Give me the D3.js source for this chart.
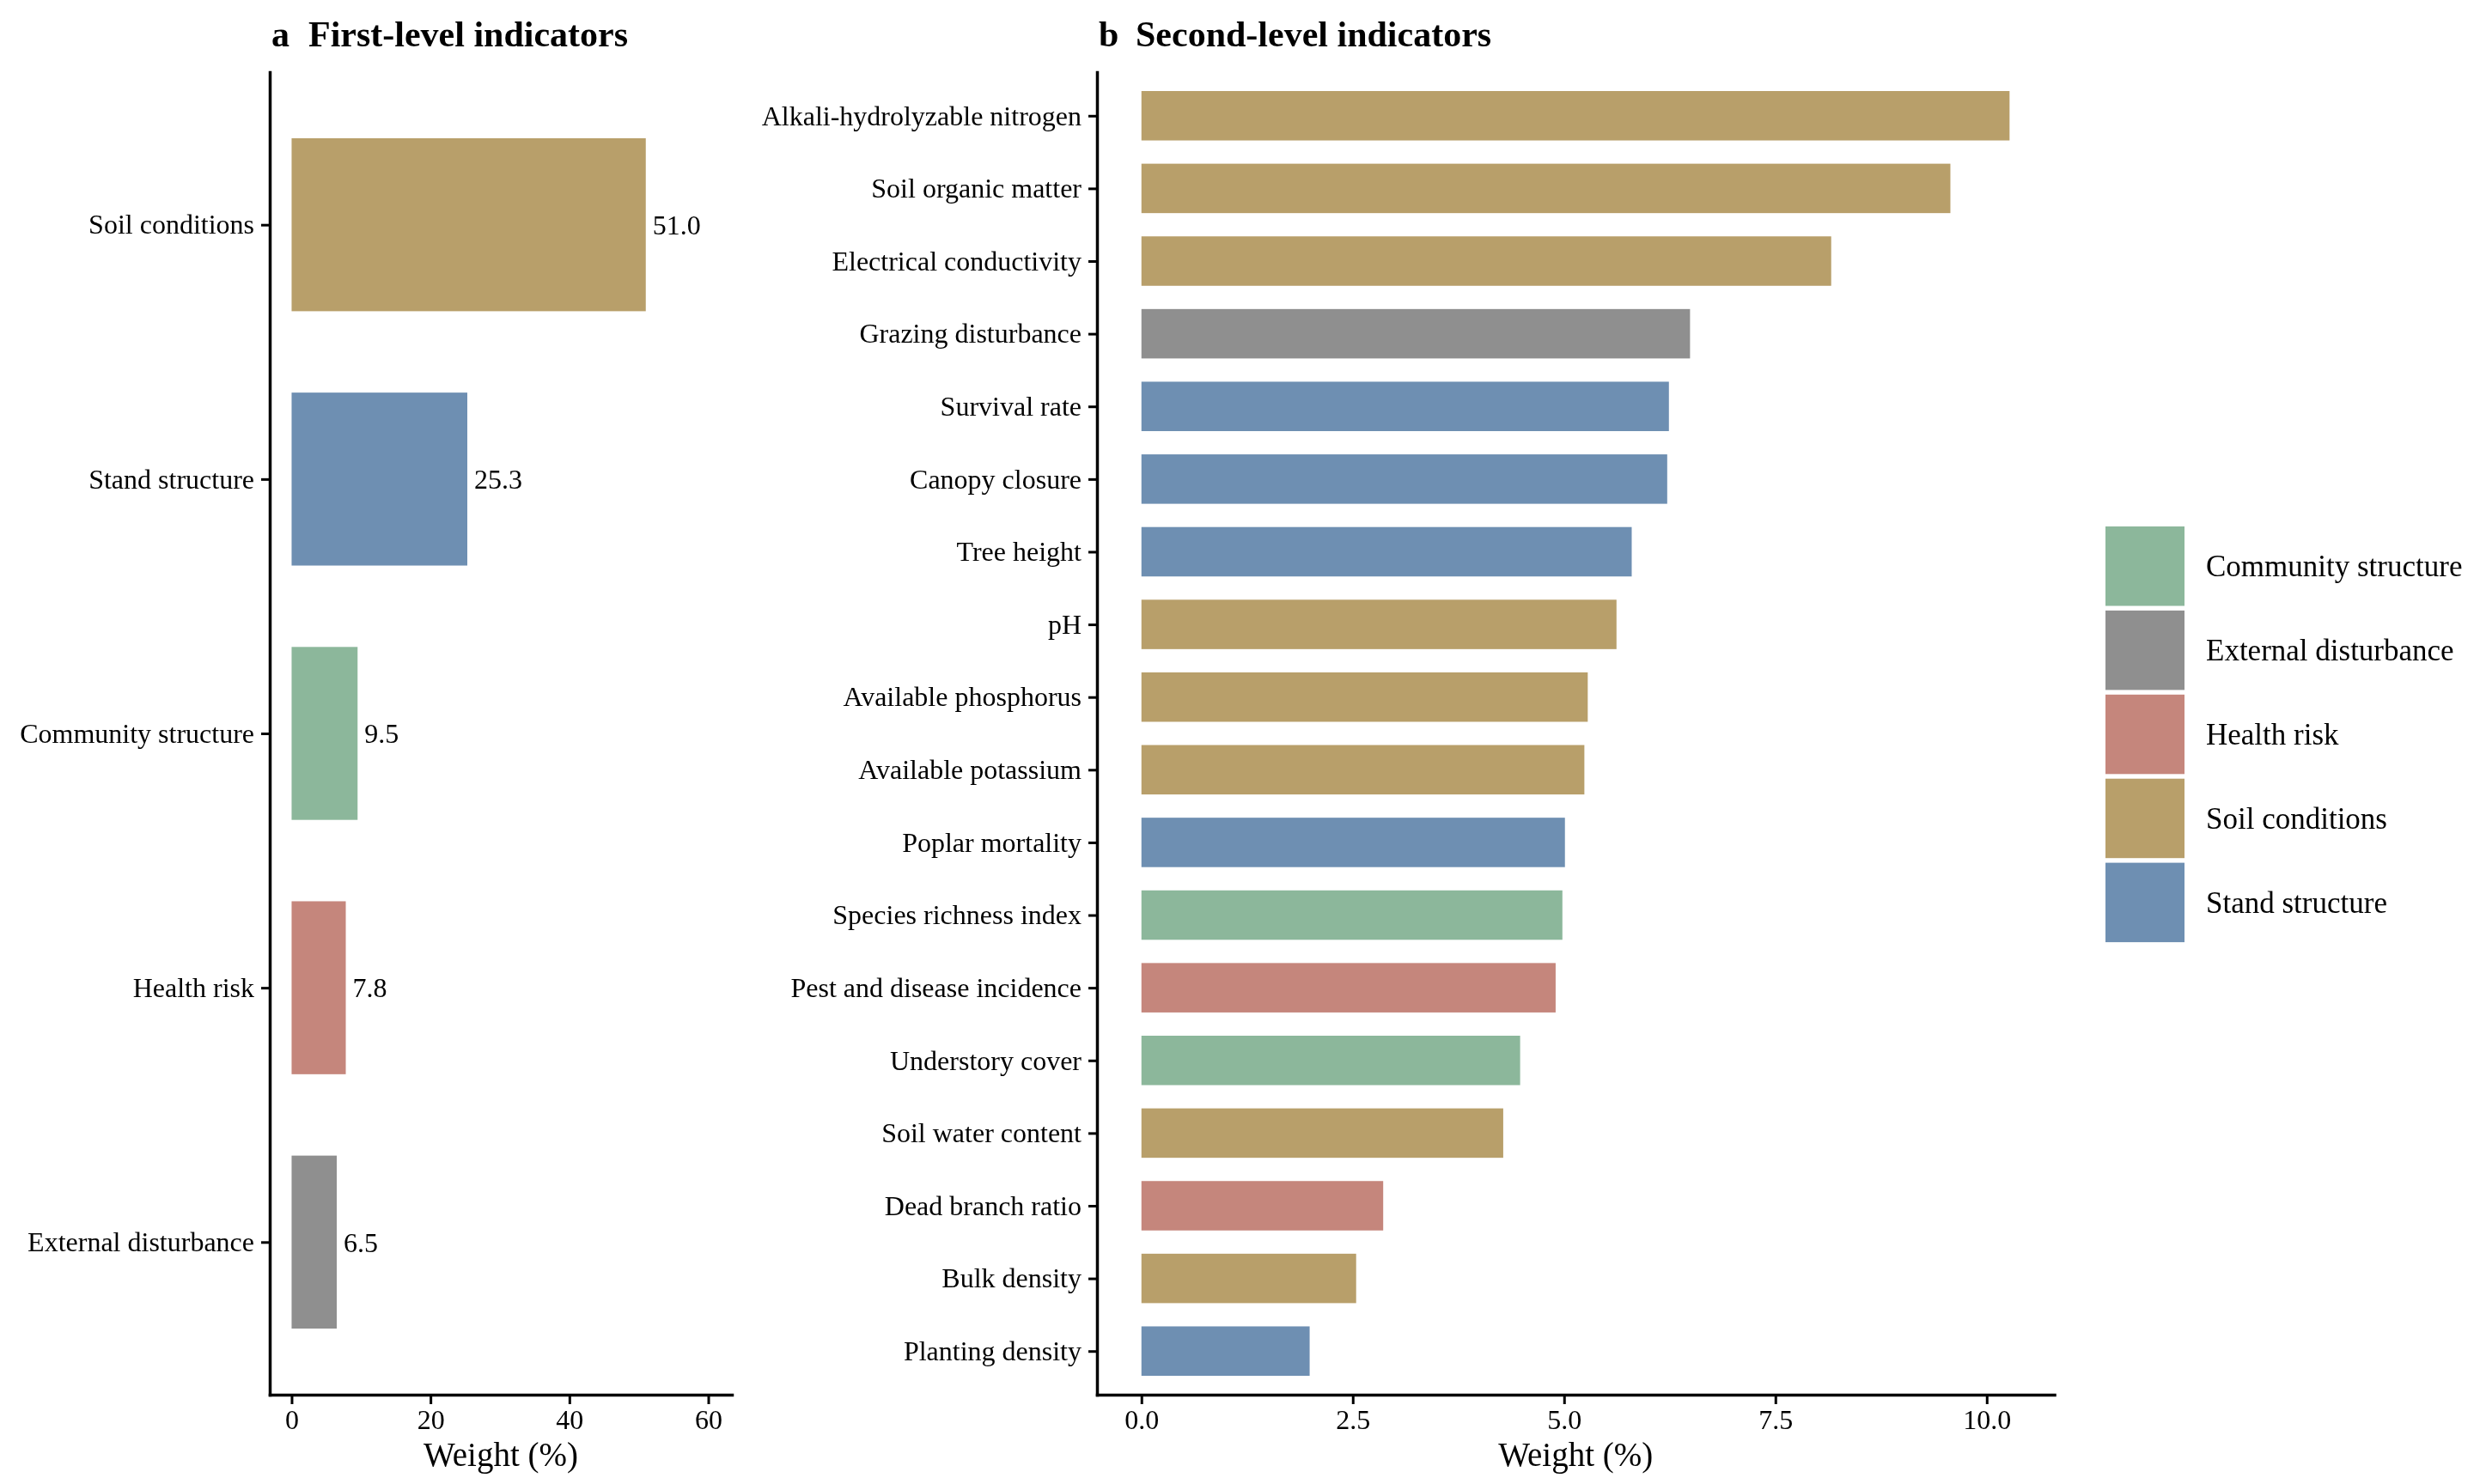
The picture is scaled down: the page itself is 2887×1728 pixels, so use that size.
<!DOCTYPE html>
<html>
<head lang="en">
    <meta charset="UTF-8">
    <title>Indicator weights</title>
    <script src="https://cdn.jsdelivr.net/npm/d3@7"></script>
    <style>
        *{margin:0;padding:0;}
        body{background:#fff;}
        text{font-family:"Liberation Serif","Times New Roman",serif;fill:#000;}
    </style>
</head>
<body>
<div id="mychart" style="width:2887px;height:1728px;position:fixed;left:0;top:0"></div>
<script>
    // first-level indicators
    var level1Names = ["Soil conditions","Stand structure","Community structure","Health risk","External disturbance"];
    var level1Weights = [51.0,25.3,9.5,7.8,6.5];
    // second-level indicators (sorted)
    var level2Names = ["Alkali-hydrolyzable nitrogen","Soil organic matter","Electrical conductivity","Grazing disturbance",
        "Survival rate","Canopy closure","Tree height","pH","Available phosphorus","Available potassium",
        "Poplar mortality","Species richness index","Pest and disease incidence","Understory cover",
        "Soil water content","Dead branch ratio","Bulk density","Planting density"];
    var level2Weights = [10.27,9.57,8.16,6.49,6.24,6.22,5.80,5.62,5.28,5.24,5.01,4.98,4.90,4.48,4.28,2.86,2.54,1.99];
    var level2Groups = ["Soil conditions","Soil conditions","Soil conditions","External disturbance",
        "Stand structure","Stand structure","Stand structure","Soil conditions","Soil conditions","Soil conditions",
        "Stand structure","Community structure","Health risk","Community structure",
        "Soil conditions","Health risk","Soil conditions","Stand structure"];
    var groupNames = ["Community structure","External disturbance","Health risk","Soil conditions","Stand structure"];
    var groupColors = ["#8CB79B","#8F8F8F","#C5867C","#B89F6A","#6E8FB2"];
    var ticksA = [0,20,40,60];
    var ticksB = [0,2.5,5,7.5,10];

    var color = d3.scaleOrdinal().domain(groupNames).range(groupColors);

    var _svg = d3.select("#mychart").append("svg")
            .attr("width",2887).attr("height",1728);

    var _top = 84, _bottom = 1624;

    function drawPanel(opt){
        var g = _svg.append("g");
        var xscale = d3.scaleLinear().domain(opt.xdomain).range(opt.xrange);
        var yscale = d3.scalePoint().domain(opt.names).range([_top,_bottom]).padding(0.6);
        var bh = yscale.step()*0.68;

        // bars
        g.selectAll("rect.bar")
                .data(opt.values)
                .enter()
                .append("rect")
                .attr("class","bar")
                .attr("x",xscale(0))
                .attr("y",function(d,i){return yscale(opt.names[i]) - bh/2;})
                .attr("width",function(d){return xscale(d)-xscale(0);})
                .attr("height",bh)
                .attr("fill",function(d,i){return color(opt.groups[i]);});

        // value labels
        if(opt.labels){
            g.selectAll("text.val")
                    .data(opt.values)
                    .enter()
                    .append("text")
                    .attr("class","val")
                    .attr("x",function(d){return xscale(d)+8;})
                    .attr("y",function(d,i){return yscale(opt.names[i]);})
                    .attr("dy","0.35em")
                    .style("font-size","32px")
                    .text(function(d){return d3.format(".1f")(d);});
        }

        // y axis
        var gy = g.append("g").attr("transform","translate("+opt.xrange[0]+",0)");
        d3.axisLeft(yscale).tickSize(10).tickSizeOuter(0).tickPadding(8)(gy);
        // x axis
        var gx = g.append("g").attr("transform","translate(0,"+_bottom+")");
        d3.axisBottom(xscale).tickValues(opt.ticks).tickFormat(opt.fmt)
                .tickSize(11).tickSizeOuter(0).tickPadding(6)(gx);

        [gx,gy].forEach(function(a){
            a.select(".domain").attr("stroke","#000").attr("stroke-width",3.5).attr("stroke-linecap","square");
            a.selectAll(".tick line").attr("stroke","#000").attr("stroke-width",3);
            a.selectAll(".tick text").attr("fill","#000")
                    .style("font-family","'Liberation Serif','Times New Roman',serif")
                    .style("font-size","32px");
        });

        // axis title
        g.append("text")
                .attr("x",(opt.xrange[0]+opt.xrange[1])/2)
                .attr("y",1707)
                .attr("text-anchor","middle")
                .style("font-size","39px")
                .text("Weight (%)");

        // panel title
        g.append("text")
                .attr("x",opt.xrange[0]+2)
                .attr("y",54)
                .style("font-size","42px")
                .style("font-weight","bold")
                .text(opt.letter);
        g.append("text")
                .attr("x",opt.xrange[0]+45)
                .attr("y",54)
                .style("font-size","42px")
                .style("font-weight","bold")
                .text(opt.title);
    }

    drawPanel({
        names:level1Names, values:level1Weights, groups:level1Names,
        xdomain:[-3.15,63.4], xrange:[314,852], ticks:ticksA, fmt:d3.format("d"),
        labels:true, letter:"a", title:"First-level indicators"
    });
    drawPanel({
        names:level2Names, values:level2Weights, groups:level2Groups,
        xdomain:[-0.526,10.8], xrange:[1277,2391.5], ticks:ticksB, fmt:d3.format(".1f"),
        labels:false, letter:"b", title:"Second-level indicators"
    });

    // legend
    var _legend = _svg.append("g").attr("transform","translate(2451,613)");
    var _step = 97.9;
    var _li = _legend.selectAll("g")
            .data(groupNames)
            .enter()
            .append("g")
            .attr("transform",function(d,i){return "translate(0,"+(i*_step)+")";});
    _li.append("rect")
            .attr("width",92)
            .attr("height",92.5)
            .attr("fill",function(d){return color(d);});
    _li.append("text")
            .attr("x",117)
            .attr("y",46)
            .attr("dy","0.35em")
            .style("font-size","35px")
            .text(function(d){return d;});
</script>
</body>
</html>
